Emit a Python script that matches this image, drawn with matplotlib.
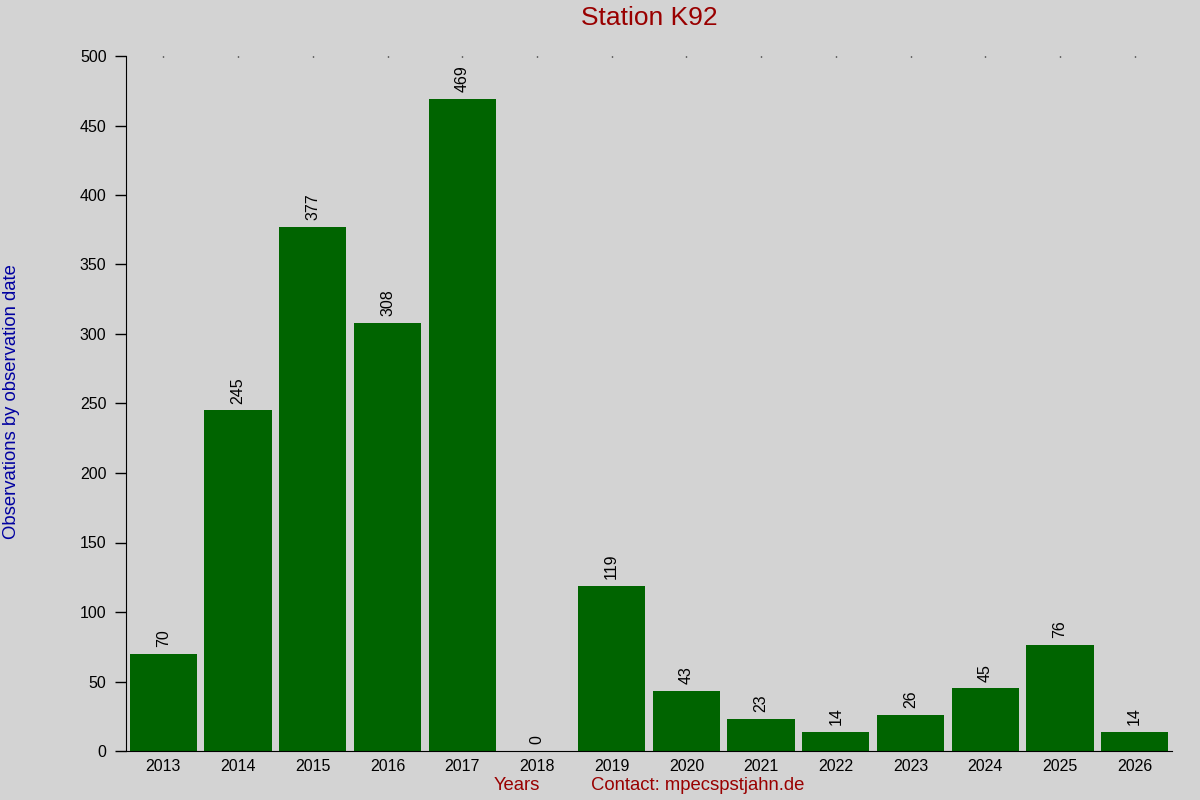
import matplotlib
matplotlib.use("Agg")
import matplotlib.pyplot as plt

years = ["2013", "2014", "2015", "2016", "2017", "2018", "2019", "2020",
         "2021", "2022", "2023", "2024", "2025", "2026"]
counts = [70, 245, 377, 308, 469, 0, 119, 43, 23, 14, 26, 45, 76, 14]
yticks = [0, 50, 100, 150, 200, 250, 300, 350, 400, 450, 500]

plt.rcParams['font.family'] = ['Liberation Sans', 'DejaVu Sans']
bg = '#d3d3d3'
fig = plt.figure(figsize=(12, 8), dpi=100, facecolor=bg)
ax = fig.add_axes([0.105, 0.06125, 0.8717, 0.86875], facecolor=bg)

x = list(range(len(years)))
ax.bar(x, counts, width=0.9, color='#006400')
for xi, v in zip(x, counts):
    ax.annotate(str(v), (xi, v), xytext=(0, 5), textcoords='offset points',
                rotation=90, ha='center', va='bottom', fontsize=11.5, color='black')

ax.set_xlim(-0.5, len(years) - 0.5)
ax.set_ylim(0, 500)
ax.set_yticks(yticks)
ax.set_xticks(x)
ax.set_xticklabels(years)
ax.tick_params(axis='x', labelsize=11.5, pad=6, top=True, bottom=False,
               direction='in', length=1, width=1)
ax.tick_params(axis='y', length=8, width=1, labelsize=11.5, pad=6)
ax.spines['top'].set_visible(False)
ax.spines['right'].set_visible(False)

fig.text(649 / 1200, 1 - 18 / 800, 'Station K92', ha='center', va='center',
         fontsize=19, color='#990000')
fig.text(517 / 1200, 1 - 786 / 800, 'Years', ha='center', va='center',
         fontsize=13.3, color='#990000')
fig.text(698 / 1200, 1 - 786 / 800, 'Contact: mpecspstjahn.de', ha='center', va='center',
         fontsize=13.3, color='#990000')
fig.text(12 / 1200, 1 - 402 / 800, 'Observations by observation date', ha='center',
         va='center', rotation=90, fontsize=13.3, color='#0000a0')

fig.savefig('out.png', dpi=100, facecolor=bg)
